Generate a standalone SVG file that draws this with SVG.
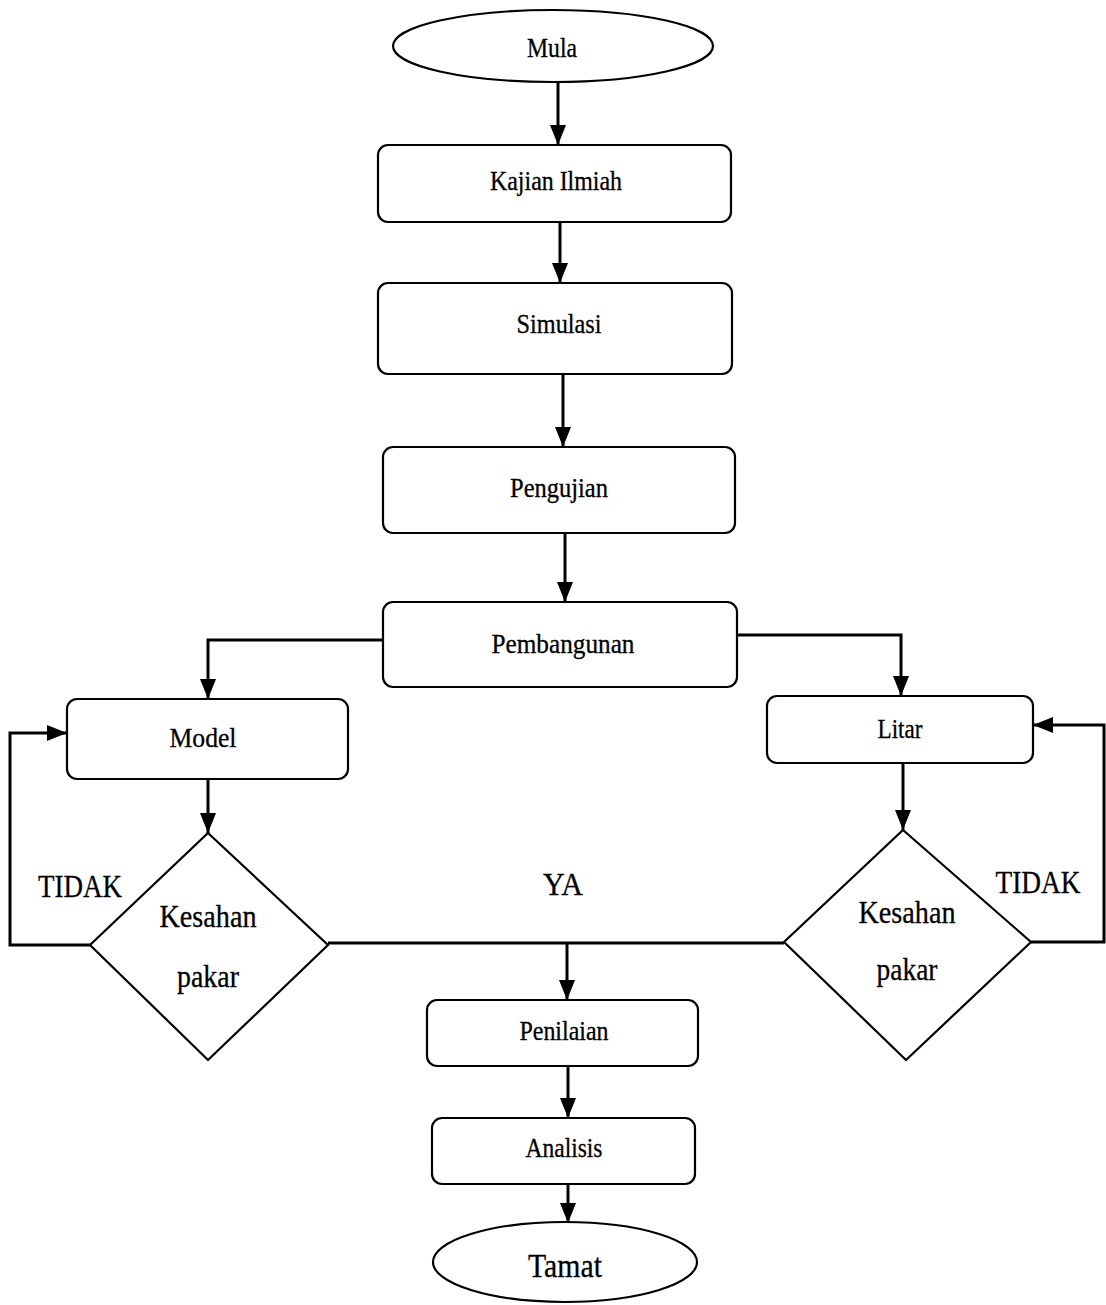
<svg xmlns="http://www.w3.org/2000/svg" width="1106" height="1305" viewBox="0 0 1106 1305">
<defs>
<marker id="ah" markerUnits="userSpaceOnUse" markerWidth="20" markerHeight="16" refX="20" refY="8" orient="auto">
<path d="M0,0 L20,8 L0,16 z" fill="#000"/>
</marker>
<style>
.box{fill:#fff;stroke:#000;stroke-width:2.2}
.t{font-family:"Liberation Serif","Times New Roman",serif;fill:#000;text-anchor:middle;stroke:#000;stroke-width:0.3}
.s{font-size:27px}
.b{font-size:32px}
.c{fill:none;stroke:#000;stroke-width:3}
</style>
</defs>
<rect width="1106" height="1305" fill="#fff"/>
<g id="connectors">
<line class="c" x1="558" y1="82" x2="558" y2="145" marker-end="url(#ah)"/>
<line class="c" x1="560" y1="222" x2="560" y2="283" marker-end="url(#ah)"/>
<line class="c" x1="563" y1="375" x2="563" y2="447" marker-end="url(#ah)"/>
<line class="c" x1="565" y1="533" x2="565" y2="602" marker-end="url(#ah)"/>
<polyline class="c" points="383,640 208,640 208,699" marker-end="url(#ah)"/>
<polyline class="c" points="737,635 901,635 901,696" marker-end="url(#ah)"/>
<line class="c" x1="208" y1="779" x2="208" y2="833" marker-end="url(#ah)"/>
<line class="c" x1="903" y1="763" x2="903" y2="830" marker-end="url(#ah)"/>
<polyline class="c" points="90,945 10,945 10,733 67,733" marker-end="url(#ah)"/>
<polyline class="c" points="1031,942 1104,942 1104,725 1033,725" marker-end="url(#ah)"/>
<line class="c" x1="328" y1="943" x2="784" y2="943"/>
<line class="c" x1="567" y1="943" x2="567" y2="1000" marker-end="url(#ah)"/>
<line class="c" x1="568" y1="1066" x2="568" y2="1118" marker-end="url(#ah)"/>
<line class="c" x1="568" y1="1184" x2="568" y2="1223" marker-end="url(#ah)"/>
</g>
<g id="mula">
<ellipse class="box" cx="553" cy="46" rx="160" ry="36"/>
<text class="t s" x="552" y="57" textLength="50" lengthAdjust="spacingAndGlyphs">Mula</text>
</g>
<g id="kajian">
<rect class="box" x="378" y="145" width="353" height="77" rx="10"/>
<text class="t s" x="556" y="190" textLength="132" lengthAdjust="spacingAndGlyphs">Kajian Ilmiah</text>
</g>
<g id="simulasi">
<rect class="box" x="378" y="283" width="354" height="91" rx="10"/>
<text class="t s" x="559" y="333" textLength="85" lengthAdjust="spacingAndGlyphs">Simulasi</text>
</g>
<g id="pengujian">
<rect class="box" x="383" y="447" width="352" height="86" rx="10"/>
<text class="t s" x="559" y="497" textLength="98" lengthAdjust="spacingAndGlyphs">Pengujian</text>
</g>
<g id="pembangunan">
<rect class="box" x="383" y="602" width="354" height="85" rx="10"/>
<text class="t s" x="563" y="653" textLength="143" lengthAdjust="spacingAndGlyphs">Pembangunan</text>
</g>
<g id="model">
<rect class="box" x="67" y="699" width="281" height="80" rx="10"/>
<text class="t s" x="203" y="747" textLength="67" lengthAdjust="spacingAndGlyphs">Model</text>
</g>
<g id="litar">
<rect class="box" x="767" y="696" width="266" height="67" rx="10"/>
<text class="t s" x="900" y="738" textLength="45" lengthAdjust="spacingAndGlyphs">Litar</text>
</g>
<g id="kesahan-model">
<polygon class="box" points="208,833 328,945 208,1060 90,945"/>
<text class="t b" x="208" y="927" textLength="97" lengthAdjust="spacingAndGlyphs">Kesahan</text>
<text class="t b" x="208" y="987" textLength="62" lengthAdjust="spacingAndGlyphs">pakar</text>
</g>
<g id="kesahan-litar">
<polygon class="box" points="903,830 1031,942 906,1060 784,942"/>
<text class="t b" x="907" y="923" textLength="97" lengthAdjust="spacingAndGlyphs">Kesahan</text>
<text class="t b" x="907" y="980" textLength="61" lengthAdjust="spacingAndGlyphs">pakar</text>
</g>
<g id="labels">
<text class="t b" x="80" y="897" textLength="84" lengthAdjust="spacingAndGlyphs">TIDAK</text>
<text class="t b" x="1038" y="893" textLength="85" lengthAdjust="spacingAndGlyphs">TIDAK</text>
<text class="t b" x="563" y="895" textLength="40" lengthAdjust="spacingAndGlyphs">YA</text>
</g>
<g id="penilaian">
<rect class="box" x="427" y="1000" width="271" height="66" rx="10"/>
<text class="t s" x="564" y="1040" textLength="89" lengthAdjust="spacingAndGlyphs">Penilaian</text>
</g>
<g id="analisis">
<rect class="box" x="432" y="1118" width="263" height="66" rx="10"/>
<text class="t s" x="564" y="1157" textLength="77" lengthAdjust="spacingAndGlyphs">Analisis</text>
</g>
<g id="tamat">
<ellipse class="box" cx="565" cy="1262" rx="132" ry="40"/>
<text class="t" style="font-size:33px" x="565" y="1277" textLength="74" lengthAdjust="spacingAndGlyphs">Tamat</text>
</g>
</svg>
